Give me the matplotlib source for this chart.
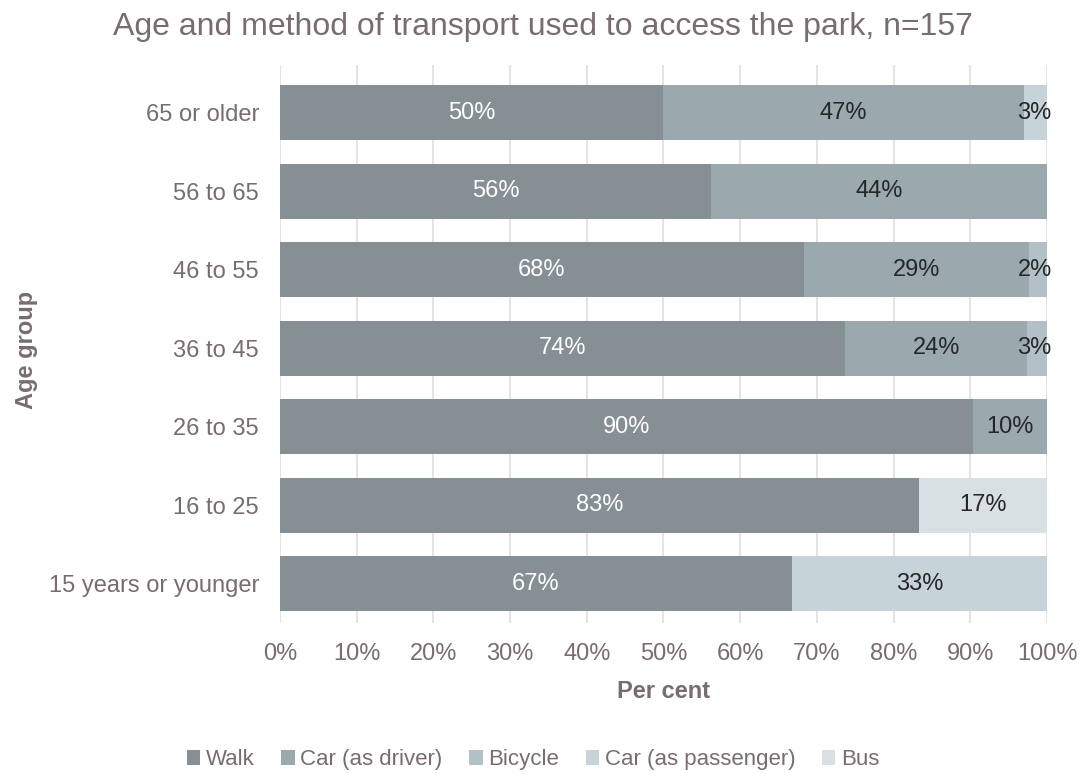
import numpy as np
import matplotlib
matplotlib.use("Agg")
import matplotlib.pyplot as plt

plt.rcParams["font.family"] = ["Liberation Sans", "DejaVu Sans"]

# age groups, bottom to top
age_groups = ["15 years or younger", "16 to 25", "26 to 35", "36 to 45",
              "46 to 55", "56 to 65", "65 or older"]
modes = ["Walk", "Car (as driver)", "Bicycle", "Car (as passenger)", "Bus"]

walk = [66.7, 83.3, 90.4, 73.7, 68.3, 56.2, 50.0]
car_driver = [0.0, 0.0, 9.6, 23.7, 29.3, 43.8, 47.0]
bicycle = [0.0, 0.0, 0.0, 2.6, 2.4, 0.0, 0.0]
car_passenger = [33.3, 0.0, 0.0, 0.0, 0.0, 0.0, 3.0]
bus = [0.0, 16.7, 0.0, 0.0, 0.0, 0.0, 0.0]

series = [walk, car_driver, bicycle, car_passenger, bus]
colors = ["#858f94", "#9aa9ae", "#b1c1c7", "#c6d3d8", "#d9e0e3"]
text_col = "#786c6f"

fig = plt.figure(figsize=(10.85, 7.74), dpi=100)
ax = fig.add_axes([0.258, 0.195, 0.707, 0.721])

y = np.arange(len(age_groups))
left = np.zeros(len(age_groups))
for i, (vals, name, col) in enumerate(zip(series, modes, colors)):
    vals = np.array(vals)
    ax.barh(y, vals, left=left, height=0.7, color=col, label=name, zorder=3)
    for yi, v, l in zip(y, vals, left):
        if v <= 0:
            continue
        lab = f"{round(v):.0f}%"
        if i == 0:
            ax.text(l + v / 2, yi, lab, ha="center", va="center",
                    color="white", fontsize=17, zorder=4)
        elif v < 5:
            # thin segments: label sits at the right end of the bar
            ax.text(100.6, yi, lab, ha="right", va="center",
                    color="#262626", fontsize=17, zorder=4)
        else:
            ax.text(l + v / 2, yi, lab, ha="center", va="center",
                    color="#262626", fontsize=17, zorder=4)
    left += vals

ax.set_xlim(0, 100)
ax.set_ylim(-0.5, 6.61)
ax.set_xticks(np.arange(0, 101, 10))
ax.set_xticklabels([f"{t}%" for t in range(0, 101, 10)])
ax.set_yticks(y)
ax.set_yticklabels(age_groups)
ax.tick_params(axis="both", length=0, labelsize=17, labelcolor=text_col)
ax.tick_params(axis="x", pad=14)
ax.tick_params(axis="y", pad=15)
ax.grid(axis="x", color="#e6e0e1", linewidth=1.3, zorder=0)
for s in ax.spines.values():
    s.set_visible(False)

ax.set_xlabel("Per cent", fontsize=17, fontweight="bold", color=text_col, labelpad=11)
fig.text(0.024, 0.548, "Age group", rotation=90, ha="center", va="center",
         fontsize=17, fontweight="bold", color=text_col)
fig.text(0.5, 0.965, "Age and method of transport used to access the park, n=157",
         ha="center", va="center", fontsize=23, color=text_col)

ax.legend(loc="center", bbox_to_anchor=(0.33, -0.245), ncol=5, frameon=False,
          fontsize=16, labelcolor=text_col, handlelength=0.6, handleheight=0.6,
          handletextpad=0.25, columnspacing=1.2)

fig.savefig("out.png", dpi=100)
